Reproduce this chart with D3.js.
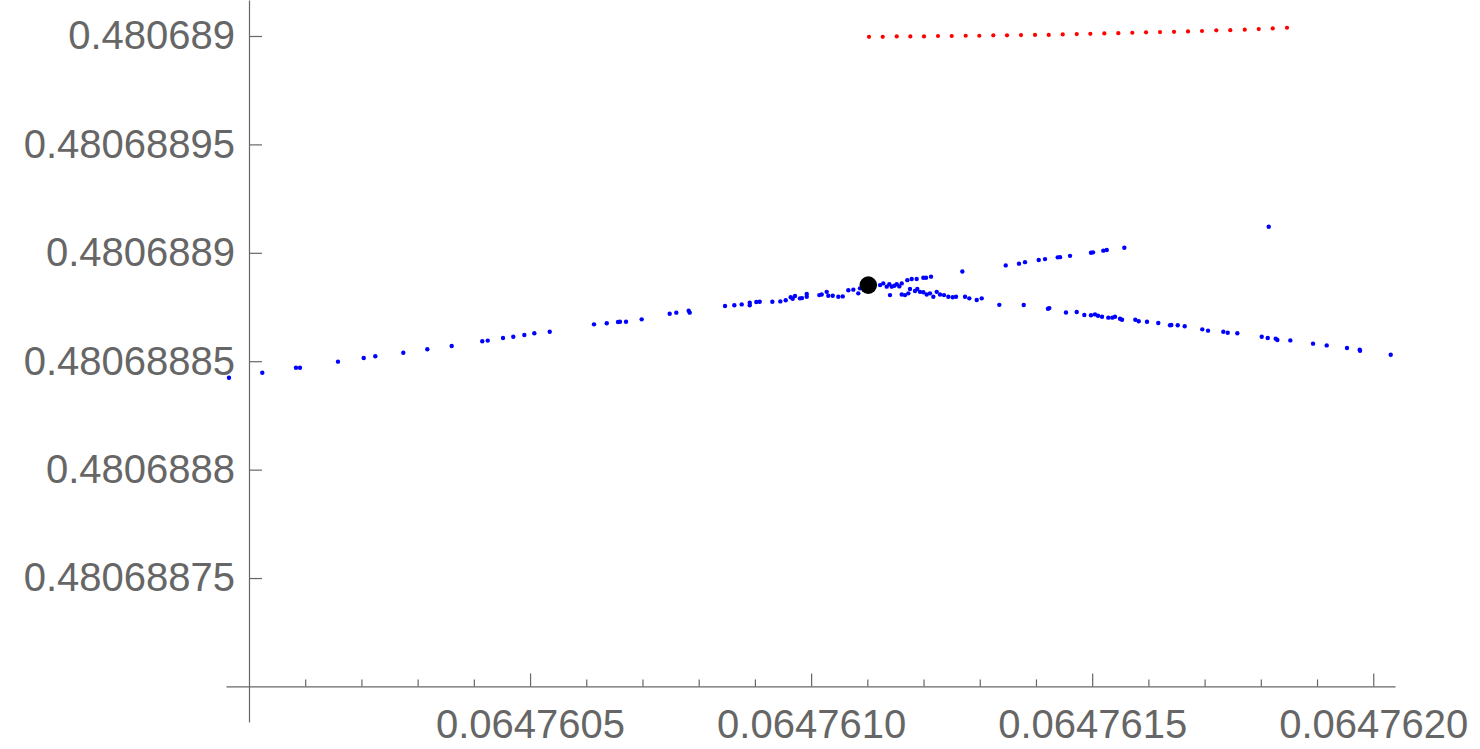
<!DOCTYPE html>
<html>
<head>
<meta charset="utf-8">
<script src="https://cdn.jsdelivr.net/npm/d3@7"></script>
<style>
  html, body { margin: 0; padding: 0; background: #ffffff; }
  svg { display: block; }
  .axis text { font-family: "Liberation Sans", Arial, Helvetica, sans-serif; font-size: 40px; fill: #666666; }
  .axis line, .axis path { stroke: #666666; stroke-width: 1.2px; }
</style>
</head>
<body>
<svg id="chart" width="1480" height="749"></svg>
<script>
// ---------- data ----------
const blueX = [
  0.0647599644, 0.0647600237, 0.0647600836, 0.0647600907, 0.0647601583, 0.0647602041, 0.0647602247, 0.0647602745,
  0.0647603172, 0.0647603606, 0.0647604150, 0.0647604247, 0.0647604519, 0.0647604702, 0.0647604898, 0.0647605076,
  0.0647605350, 0.0647606138, 0.0647606364, 0.0647606565, 0.0647606600, 0.0647606707, 0.0647606986, 0.0647607484,
  0.0647607602, 0.0647607822, 0.0647607840, 0.0647608468, 0.0647608634, 0.0647608765, 0.0647608908, 0.0647608908,
  0.0647609025, 0.0647609085, 0.0647609310, 0.0647609452, 0.0647609548, 0.0647609637, 0.0647609672, 0.0647609713,
  0.0647609802, 0.0647609838, 0.0647609922, 0.0647609922, 0.0647610146, 0.0647610188, 0.0647610277, 0.0647610306,
  0.0647610384, 0.0647610484, 0.0647610562, 0.0647610662, 0.0647610751, 0.0647610839, 0.0647610870,
  0.0647611226, 0.0647611284, 0.0647611345, 0.0647611391, 0.0647611434, 0.0647611480, 0.0647611523, 0.0647611569,
  0.0647611612, 0.0647611403,
  0.0647611711, 0.0647611789, 0.0647611878, 0.0647611996, 0.0647612044, 0.0647612133, 0.0647612690, 0.0647613462,
  0.0647613698, 0.0647613805, 0.0647614049, 0.0647614161, 0.0647614387, 0.0647614428, 0.0647614606, 0.0647614979,
  0.0647615015, 0.0647615198, 0.0647615259, 0.0647615572, 0.0647618141,
  0.0647611612, 0.0647611670, 0.0647611729, 0.0647611759, 0.0647611848, 0.0647611889, 0.0647611937, 0.0647611996,
  0.0647612056, 0.0647612115, 0.0647612174, 0.0647612234, 0.0647612293, 0.0647612364, 0.0647612441, 0.0647612519,
  0.0647612578, 0.0647612738, 0.0647612814, 0.0647612946, 0.0647613035, 0.0647613348, 0.0647613782, 0.0647614214,
  0.0647614237, 0.0647614534, 0.0647614725, 0.0647614860, 0.0647614979, 0.0647615050, 0.0647615104, 0.0647615175,
  0.0647615287, 0.0647615358, 0.0647615406, 0.0647615495, 0.0647615531, 0.0647615767, 0.0647615828, 0.0647615975,
  0.0647616176, 0.0647616385, 0.0647616408, 0.0647616522, 0.0647616646, 0.0647616959, 0.0647617061, 0.0647617333,
  0.0647617411, 0.0647617582, 0.0647618016, 0.0647618123, 0.0647618265, 0.0647618294, 0.0647618525, 0.0647618929,
  0.0647619172, 0.0647619533, 0.0647619759, 0.0647619765, 0.0647620311
];
const blueY = [
  0.4806888424, 0.4806888447, 0.4806888470, 0.4806888470, 0.4806888498, 0.4806888515, 0.4806888523, 0.4806888539,
  0.4806888555, 0.4806888570, 0.4806888592, 0.4806888595, 0.4806888607, 0.4806888613, 0.4806888621, 0.4806888629,
  0.4806888636, 0.4806888670, 0.4806888675, 0.4806888681, 0.4806888682, 0.4806888682, 0.4806888693, 0.4806888719,
  0.4806888724, 0.4806888733, 0.4806888724, 0.4806888755, 0.4806888758, 0.4806888762, 0.4806888770, 0.4806888758,
  0.4806888773, 0.4806888774, 0.4806888774, 0.4806888776, 0.4806888781, 0.4806888795, 0.4806888788, 0.4806888801,
  0.4806888790, 0.4806888791, 0.4806888810, 0.4806888797, 0.4806888805, 0.4806888808, 0.4806888820, 0.4806888802,
  0.4806888802, 0.4806888797, 0.4806888799, 0.4806888827, 0.4806888830, 0.4806888813, 0.4806888836,
  0.4806888851, 0.4806888859, 0.4806888844, 0.4806888855, 0.4806888844, 0.4806888848, 0.4806888855, 0.4806888845,
  0.4806888859, 0.4806888805,
  0.4806888874, 0.4806888879, 0.4806888879, 0.4806888885, 0.4806888885, 0.4806888890, 0.4806888914, 0.4806888942,
  0.4806888950, 0.4806888957, 0.4806888967, 0.4806888971, 0.4806888979, 0.4806888980, 0.4806888986, 0.4806889000,
  0.4806889002, 0.4806889010, 0.4806889013, 0.4806889023, 0.4806889120,
  0.4806888808, 0.4806888805, 0.4806888813, 0.4806888833, 0.4806888824, 0.4806888833, 0.4806888820, 0.4806888818,
  0.4806888808, 0.4806888813, 0.4806888797, 0.4806888820, 0.4806888808, 0.4806888805, 0.4806888797, 0.4806888795,
  0.4806888797, 0.4806888797, 0.4806888790, 0.4806888782, 0.4806888790, 0.4806888760, 0.4806888759, 0.4806888742,
  0.4806888745, 0.4806888725, 0.4806888727, 0.4806888713, 0.4806888712, 0.4806888716, 0.4806888710, 0.4806888705,
  0.4806888701, 0.4806888701, 0.4806888705, 0.4806888696, 0.4806888691, 0.4806888691, 0.4806888684, 0.4806888682,
  0.4806888676, 0.4806888666, 0.4806888667, 0.4806888666, 0.4806888661, 0.4806888647, 0.4806888641, 0.4806888636,
  0.4806888631, 0.4806888629, 0.4806888613, 0.4806888607, 0.4806888604, 0.4806888598, 0.4806888596, 0.4806888581,
  0.4806888573, 0.4806888561, 0.4806888553, 0.4806888548, 0.4806888530
];
const redX = [
  0.0647611030, 0.0647611274, 0.0647611523, 0.0647611765, 0.0647612008, 0.0647612257, 0.0647612501, 0.0647612750,
  0.0647612992, 0.0647613241, 0.0647613485, 0.0647613734, 0.0647613983, 0.0647614227, 0.0647614476, 0.0647614725,
  0.0647614967, 0.0647615216, 0.0647615465, 0.0647615714, 0.0647615958, 0.0647616207, 0.0647616456, 0.0647616705,
  0.0647616954, 0.0647617208, 0.0647617457, 0.0647617714, 0.0647617963, 0.0647618212, 0.0647618466
];
const redY = [
  0.4806889996, 0.4806889996, 0.4806889998, 0.4806889998, 0.4806889998, 0.4806890000, 0.4806890000, 0.4806890001,
  0.4806890001, 0.4806890003, 0.4806890003, 0.4806890004, 0.4806890005, 0.4806890005, 0.4806890007, 0.4806890009,
  0.4806890010, 0.4806890012, 0.4806890013, 0.4806890015, 0.4806890017, 0.4806890018, 0.4806890019, 0.4806890021,
  0.4806890023, 0.4806890026, 0.4806890027, 0.4806890029, 0.4806890032, 0.4806890035, 0.4806890038
];
const blackX = [0.0647611017];
const blackY = [0.4806888851];

const xTickValues = [0.0647605, 0.0647610, 0.0647615, 0.0647620];
const xTickLabels = ["0.0647605", "0.0647610", "0.0647615", "0.0647620"];
const xMinorValues = [0.0647601, 0.0647602, 0.0647603, 0.0647604, 0.0647606, 0.0647607, 0.0647608, 0.0647609,
                      0.0647611, 0.0647612, 0.0647613, 0.0647614, 0.0647616, 0.0647617, 0.0647618, 0.0647619];
const yTickValues = [0.48068875, 0.4806888, 0.48068885, 0.4806889, 0.48068895, 0.480689];
const yTickLabels = ["0.48068875", "0.4806888", "0.48068885", "0.4806889", "0.48068895", "0.480689"];
const xDomain = [0.0647599591, 0.0647620387];
const yDomain = [0.4806886836, 0.4806890166];
const axisOrigin = [0.06476, 0.4806887];

// ---------- drawing ----------
const svg = d3.select("#chart");
svg.append("rect").attr("width", 1480).attr("height", 749).attr("fill", "#fff");

const x = d3.scaleLinear().domain(xDomain).range([226, 1395]);
const y = d3.scaleLinear().domain(yDomain).range([722, 0]);

// x axis
const xAxisG = svg.append("g").attr("class", "axis")
  .attr("transform", `translate(0,${y(axisOrigin[1])})`);
xAxisG.call(d3.axisBottom(x).tickValues(xTickValues)
  .tickFormat((d, i) => xTickLabels[i]).tickSizeInner(-13).tickSizeOuter(0).tickPadding(23));
xAxisG.append("g").call(d3.axisBottom(x).tickValues(xMinorValues)
  .tickFormat("").tickSizeInner(-7).tickSizeOuter(0))
  .select(".domain").remove();
xAxisG.selectAll("text").attr("dy", "0.71em");

// y axis
const yAxisG = svg.append("g").attr("class", "axis")
  .attr("transform", `translate(${x(axisOrigin[0])},0)`);
yAxisG.call(d3.axisLeft(y).tickValues(yTickValues)
  .tickFormat((d, i) => yTickLabels[i]).tickSizeInner(-13).tickSizeOuter(0).tickPadding(14));

svg.selectAll(".axis .tick text").style("font-family", '"Liberation Sans", Arial, sans-serif');

// points
const blue = blueX.map((d, i) => [d, blueY[i]]);
const red = redX.map((d, i) => [d, redY[i]]);
const black = blackX.map((d, i) => [d, blackY[i]]);

svg.append("g").selectAll("circle").data(blue).join("circle")
  .attr("cx", d => x(d[0])).attr("cy", d => y(d[1])).attr("r", 2.2).attr("fill", "#0000ff");
svg.append("g").selectAll("circle").data(red).join("circle")
  .attr("cx", d => x(d[0])).attr("cy", d => y(d[1])).attr("r", 2.1).attr("fill", "#ff0000");
svg.append("g").selectAll("circle").data(black).join("circle")
  .attr("cx", d => x(d[0])).attr("cy", d => y(d[1])).attr("r", 8.8).attr("fill", "#000000");
</script>
</body>
</html>
